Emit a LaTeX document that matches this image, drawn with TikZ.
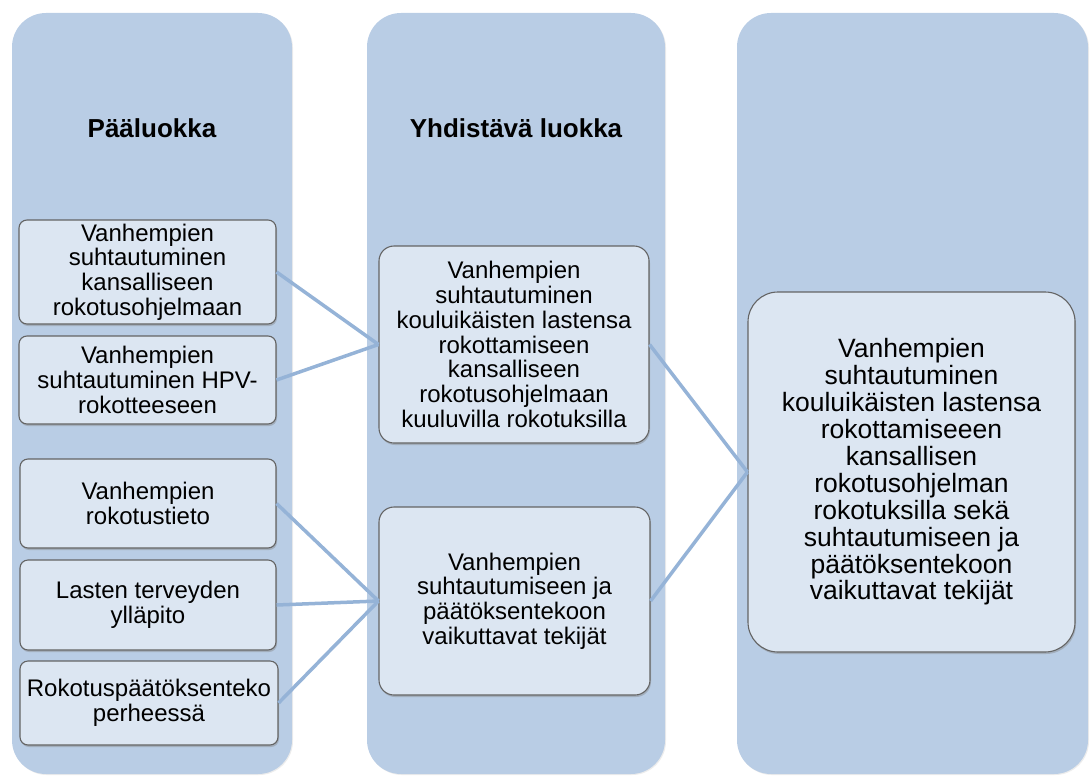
\documentclass[tikz,border=0pt]{standalone}
\usepackage{fontspec}
\setmainfont{Liberation Sans}
\usetikzlibrary{shadows}
\definecolor{colfill}{HTML}{B9CDE5}
\definecolor{boxfill}{HTML}{DCE6F2}
\definecolor{boxline}{HTML}{646464}
\definecolor{linkblue}{HTML}{95B3D7}
\tikzset{
  column/.style={fill=colfill, draw=none, rounded corners=34pt,
    drop shadow={shadow xshift=1pt, shadow yshift=-1pt, opacity=0.15}},
  coltitle/.style={font=\bfseries\fontsize{26}{30}\selectfont, align=center},
  leafbox/.style={fill=boxfill, draw=boxline, line width=1.1pt, rounded corners=8pt,
    align=center, inner sep=2pt, font=\fontsize{24}{24.7}\selectfont,
    drop shadow={shadow xshift=1pt, shadow yshift=-2pt, opacity=0.4}},
  midbox/.style={leafbox, rounded corners=15pt},
  sumbox/.style={leafbox, rounded corners=30pt, font=\fontsize{26.5}{26.9}\selectfont},
  link/.style={draw=linkblue, line width=3.5pt}
}
\begin{document}
\begin{tikzpicture}[x=1pt, y=-1pt]
\useasboundingbox (0,0) rectangle (1091,776);

% three category columns
\node[column, minimum width=280pt, minimum height=761pt] (col1) at (152,393.5) {};
\node[column, minimum width=298pt, minimum height=761pt] (col2) at (516,393.5) {};
\node[column, minimum width=351pt, minimum height=761pt] (col3) at (912.5,393.5) {};

\node[coltitle] (t1) at (152,128) {Pääluokka};
\node[coltitle] (t2) at (516,128) {Yhdistävä luokka};

% sub-categories
\node[leafbox, minimum width=257pt, minimum height=104pt] (b1) at (147.5,272)
  {Vanhempien\\suhtautuminen\\kansalliseen\\rokotusohjelmaan};
\node[leafbox, minimum width=257pt, minimum height=88pt] (b2) at (147.5,380)
  {Vanhempien\\suhtautuminen HPV-\\rokotteeseen};
\node[leafbox, minimum width=256pt, minimum height=89pt] (b3) at (148,503.5)
  {Vanhempien\\rokotustieto};
\node[leafbox, minimum width=256pt, minimum height=90pt] (b4) at (148,605)
  {Lasten terveyden\\ylläpito};
\node[leafbox, minimum width=258pt, minimum height=84pt] (b5) at (149,703)
  {Rokotuspäätöksenteko\\perheessä};

% combining categories
\node[midbox, minimum width=270pt, minimum height=197pt] (m1) at (514,344.5)
  {Vanhempien\\suhtautuminen\\kouluikäisten lastensa\\rokottamiseen\\kansalliseen\\rokotusohjelmaan\\kuuluvilla rokotuksilla};
\node[midbox, minimum width=271pt, minimum height=188pt] (m2) at (514.5,601)
  {Vanhempien\\suhtautumiseen ja\\päätöksentekoon\\vaikuttavat tekijät};

% overall category
\node[sumbox, minimum width=327pt, minimum height=360pt] (s) at (911.5,472)
  {Vanhempien\\suhtautuminen\\kouluikäisten lastensa\\rokottamiseeen\\kansallisen\\rokotusohjelman\\rokotuksilla sekä\\suhtautumiseen ja\\päätöksentekoon\\vaikuttavat tekijät};

% connectors
\draw[link] (b1.east) -- (m1.west);
\draw[link] (b2.east) -- (m1.west);
\draw[link] (b3.east) -- (m2.west);
\draw[link] (b4.east) -- (m2.west);
\draw[link] (b5.east) -- (m2.west);
\draw[link] (m1.east) -- (s.west);
\draw[link] (m2.east) -- (s.west);
\end{tikzpicture}
\end{document}
